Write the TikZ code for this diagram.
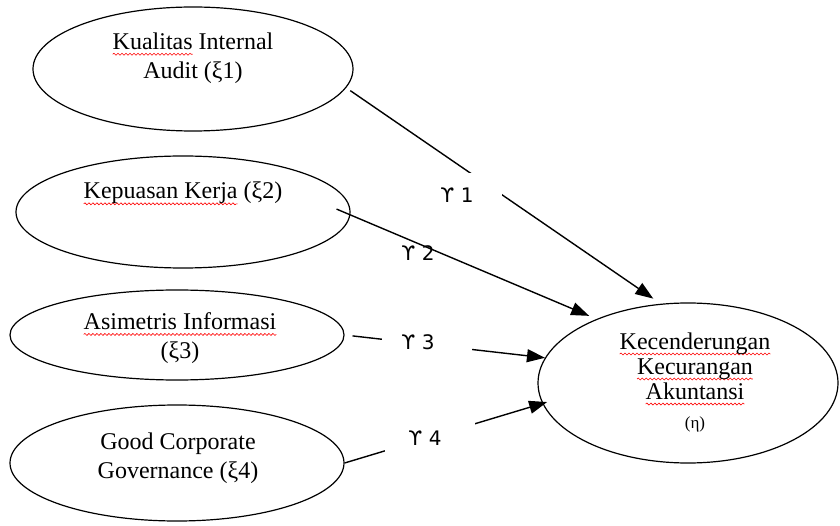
\documentclass[tikz,border=0pt]{standalone}
\usepackage{fontspec}
\setmainfont{Liberation Serif}
\newfontfamily\lblfont{DejaVu Sans}
\usetikzlibrary{arrows.meta,shapes.geometric,decorations.pathmorphing}
\newcommand\redwave[1]{\setbox0\hbox{#1}\leavevmode\rlap{\tikz[overlay,x=1pt,y=1pt]\draw[red,line width=0.6pt,decorate,decoration={snake,amplitude=1pt,segment length=4pt}] (0pt,-5pt) -- (\the\wd0,-5pt);}\box0\relax}
\begin{document}
\begin{tikzpicture}[x=1pt,y=-1pt,
  oval/.style={ellipse,draw,line width=1.2pt,inner sep=0pt},
  txt/.style={align=center,font=\fontsize{24}{29}\selectfont,inner sep=0pt},
  conn/.style={line width=1.4pt},
  arr/.style={conn,-{Triangle[length=18pt,width=13pt]}},
  gapbox/.style={fill=white,inner sep=0pt,minimum width=90pt,minimum height=44pt,font=\lblfont\fontsize{20}{24}\selectfont},
  lbl/.style={inner sep=0pt,font=\lblfont\fontsize{20}{24}\selectfont}]
\useasboundingbox (0,0) rectangle (840,526);
% ellipses
\node[oval,minimum width=320pt,minimum height=124pt] (e1) at (193,69) {};
\node[oval,minimum width=334pt,minimum height=112pt] (e2) at (183,212) {};
\node[oval,minimum width=334pt,minimum height=90pt] (e3) at (177,335) {};
\node[oval,minimum width=334pt,minimum height=116pt] (e4) at (177,463) {};
\node[oval,minimum width=300pt,minimum height=160pt] (e5) at (688,383) {};
% texts
\node[txt] (t1) at (193,58) {\redwave{Kualitas} Internal\\ Audit (ξ1)};
\node[txt] (t2) at (183,193) {\redwave{Kepuasan Kerja} (ξ2)};
\node[txt] (t3) at (180,338) {\redwave{Asimetris Informasi}\\ (ξ3)};
\node[txt] (t4) at (178,458) {Good Corporate\\ Governance (ξ4)};
\node[txt,font=\fontsize{24}{25}\selectfont] (t5) at (695,382) {\redwave{Kecenderungan}\\ \redwave{Kecurangan}\\ \redwave{Akuntansi}\\[4pt] {\fontsize{17}{17}\selectfont(η)}};
% connectors
\draw[arr,shorten <=5pt,shorten >=9pt] (e1.-7) -- (e5.109);
\draw[arr,shorten <=8pt] (e3.east) -- (e5.170);
\draw[arr,shorten >=-5pt] (e4.east) -- (e5.188);
% label boxes
\node[gapbox] (g1) at (457,195) {ϒ 1};
\node[gapbox] (g3) at (427,342) {\hspace*{-18pt}ϒ 3};
\node[gapbox] (g4) at (430,438) {\hspace*{-10pt}ϒ 4};
\node[lbl] (g2) at (418,253) {ϒ 2};
\draw[arr,shorten <=-15pt,shorten >=8pt] (e2.-1) -- (e5.145);
\end{tikzpicture}
\end{document}
